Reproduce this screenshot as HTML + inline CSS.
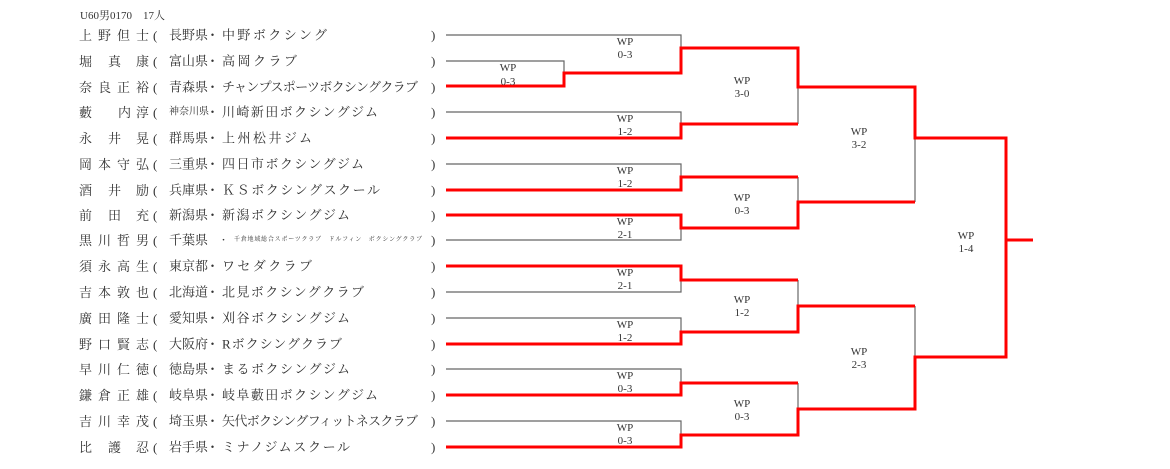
<!DOCTYPE html>
<html><head><meta charset="utf-8"><style>
html,body{margin:0;padding:0;background:#fff;}
svg{display:block;}
text{font-family:"Liberation Serif","Noto Serif CJK SC",serif;fill:#333;}
.n{font-size:13px;}
.l{font-size:11px;font-family:"Liberation Mono","Noto Sans CJK JP",monospace;text-anchor:middle;fill:#444;}
.g{stroke:#666;stroke-width:1.2;fill:none;}
.r{stroke:#f00;stroke-width:3;fill:none;}
</style></head><body>
<svg width="1170" height="469" viewBox="0 0 1170 469" xmlns="http://www.w3.org/2000/svg">
<text x="80" y="19" style="font-size:11px">U60男0170　17人</text>
<g class="n" dominant-baseline="central">
<text y="35"><tspan x="79">上</tspan><tspan x="98">野</tspan><tspan x="117">但</tspan><tspan x="136">士</tspan><tspan x="153">(</tspan></text>
<text y="61"><tspan x="79">堀</tspan><tspan x="108">真</tspan><tspan x="136">康</tspan><tspan x="153">(</tspan></text>
<text y="87"><tspan x="79">奈</tspan><tspan x="98">良</tspan><tspan x="117">正</tspan><tspan x="136">裕</tspan><tspan x="153">(</tspan></text>
<text y="112"><tspan x="79">藪</tspan><tspan x="118">内</tspan><tspan x="136">淳</tspan><tspan x="153">(</tspan></text>
<text y="138"><tspan x="79">永</tspan><tspan x="108">井</tspan><tspan x="136">晃</tspan><tspan x="153">(</tspan></text>
<text y="164"><tspan x="79">岡</tspan><tspan x="98">本</tspan><tspan x="117">守</tspan><tspan x="136">弘</tspan><tspan x="153">(</tspan></text>
<text y="190"><tspan x="79">酒</tspan><tspan x="108">井</tspan><tspan x="136">励</tspan><tspan x="153">(</tspan></text>
<text y="215"><tspan x="79">前</tspan><tspan x="108">田</tspan><tspan x="136">充</tspan><tspan x="153">(</tspan></text>
<text y="240"><tspan x="79">黒</tspan><tspan x="98">川</tspan><tspan x="117">哲</tspan><tspan x="136">男</tspan><tspan x="153">(</tspan></text>
<text y="266"><tspan x="79">須</tspan><tspan x="98">永</tspan><tspan x="117">高</tspan><tspan x="136">生</tspan><tspan x="153">(</tspan></text>
<text y="292"><tspan x="79">吉</tspan><tspan x="98">本</tspan><tspan x="117">敦</tspan><tspan x="136">也</tspan><tspan x="153">(</tspan></text>
<text y="318"><tspan x="79">廣</tspan><tspan x="98">田</tspan><tspan x="117">隆</tspan><tspan x="136">士</tspan><tspan x="153">(</tspan></text>
<text y="344"><tspan x="79">野</tspan><tspan x="98">口</tspan><tspan x="117">賢</tspan><tspan x="136">志</tspan><tspan x="153">(</tspan></text>
<text y="369"><tspan x="79">早</tspan><tspan x="98">川</tspan><tspan x="117">仁</tspan><tspan x="136">徳</tspan><tspan x="153">(</tspan></text>
<text y="395"><tspan x="79">鎌</tspan><tspan x="98">倉</tspan><tspan x="117">正</tspan><tspan x="136">雄</tspan><tspan x="153">(</tspan></text>
<text y="421"><tspan x="79">吉</tspan><tspan x="98">川</tspan><tspan x="117">幸</tspan><tspan x="136">茂</tspan><tspan x="153">(</tspan></text>
<text y="447"><tspan x="79">比</tspan><tspan x="108">護</tspan><tspan x="136">忍</tspan><tspan x="153">(</tspan></text>
<text x="169" y="35">長野県</text><text x="169" y="61">富山県</text><text x="169" y="87">青森県</text>
<text x="169" y="112" style="font-size:10px">神奈川県</text><text x="169" y="138">群馬県</text><text x="169" y="164">三重県</text>
<text x="169" y="190">兵庫県</text><text x="169" y="215">新潟県</text><text x="169" y="240">千葉県</text>
<text x="169" y="266">東京都</text><text x="169" y="292">北海道</text><text x="169" y="318">愛知県</text>
<text x="169" y="344">大阪府</text><text x="169" y="369">徳島県</text><text x="169" y="395">岐阜県</text>
<text x="169" y="421">埼玉県</text><text x="169" y="447">岩手県</text>
<text x="206" y="35">・</text><text x="206" y="61">・</text><text x="206" y="87">・</text><text x="206" y="112">・</text>
<text x="206" y="138">・</text><text x="206" y="164">・</text><text x="206" y="190">・</text><text x="206" y="215">・</text>
<text x="219" y="240" style="font-size:9px">・</text><text x="206" y="266">・</text><text x="206" y="292">・</text><text x="206" y="318">・</text>
<text x="206" y="344">・</text><text x="206" y="369">・</text><text x="206" y="395">・</text><text x="206" y="421">・</text><text x="206" y="447">・</text>
<text x="222" y="35" textLength="105">中野ボクシング</text>
<text x="222" y="61" textLength="75">高岡クラブ</text>
<text x="222" y="87" textLength="196">チャンプスポーツボクシングクラブ</text>
<text x="222" y="112" textLength="156">川崎新田ボクシングジム</text>
<text x="222" y="138" textLength="90">上州松井ジム</text>
<text x="222" y="164" textLength="142">四日市ボクシングジム</text>
<text x="222" y="190" textLength="158">ＫＳボクシングスクール</text>
<text x="222" y="215" textLength="128">新潟ボクシングジム</text>
<text x="234" y="240" style="font-size:6px" textLength="188">千倉地域総合スポーツクラブ　ドルフィン　ボクシングクラブ</text>
<text x="222" y="266" textLength="90">ワセダクラブ</text>
<text x="222" y="292" textLength="142">北見ボクシングクラブ</text>
<text x="222" y="318" textLength="128">刈谷ボクシングジム</text>
<text x="222" y="344" textLength="120">Rボクシングクラブ</text>
<text x="222" y="369" textLength="128">まるボクシングジム</text>
<text x="222" y="395" textLength="156">岐阜藪田ボクシングジム</text>
<text x="222" y="421" textLength="196">矢代ボクシングフィットネスクラブ</text>
<text x="222" y="447" textLength="128">ミナノジムスクール</text>
<g>
<text x="431" y="35">)</text><text x="431" y="61">)</text><text x="431" y="87">)</text><text x="431" y="112">)</text>
<text x="431" y="138">)</text><text x="431" y="164">)</text><text x="431" y="190">)</text><text x="431" y="215">)</text>
<text x="431" y="240">)</text><text x="431" y="266">)</text><text x="431" y="292">)</text><text x="431" y="318">)</text>
<text x="431" y="344">)</text><text x="431" y="369">)</text><text x="431" y="395">)</text><text x="431" y="421">)</text><text x="431" y="447">)</text>
</g>
</g>
<g class="g">
<path d="M446 35H681V48"/>
<path d="M446 61H564V73"/>
<path d="M446 112H681V124"/>
<path d="M798 87V124"/>
<path d="M446 164H681V177"/>
<path d="M446 240H681V228"/>
<path d="M798 177V202"/>
<path d="M915 138V202"/>
<path d="M1006 138V240"/>
<path d="M446 292H681V280"/>
<path d="M798 280V306"/>
<path d="M446 318H681V332"/>
<path d="M915 306V357"/>
<path d="M446 369H681V383"/>
<path d="M798 383V409"/>
<path d="M446 421H681V435"/>
</g>
<g class="r">
<path d="M446 86H564V73H681V48H798V87H915V138H1006V240H1033"/>
<path d="M446 138H681V124H798"/>
<path d="M446 190H681V177H798"/>
<path d="M446 215H681V228H798V202H915"/>
<path d="M446 266H681V280H798"/>
<path d="M446 344H681V332H798V306H915"/>
<path d="M446 395H681V383H798"/>
<path d="M446 447H681V435H798V409H915V357H1006V240"/>
</g>
<g class="l" dominant-baseline="central">
<text x="508" y="68">WP</text><text x="508" y="82">0-3</text>
<text x="625" y="42">WP</text><text x="625" y="55">0-3</text>
<text x="625" y="119">WP</text><text x="625" y="132">1-2</text>
<text x="625" y="171">WP</text><text x="625" y="184">1-2</text>
<text x="625" y="222">WP</text><text x="625" y="235">2-1</text>
<text x="625" y="273">WP</text><text x="625" y="286">2-1</text>
<text x="625" y="325">WP</text><text x="625" y="338">1-2</text>
<text x="625" y="376">WP</text><text x="625" y="389">0-3</text>
<text x="625" y="428">WP</text><text x="625" y="441">0-3</text>
<text x="742" y="81">WP</text><text x="742" y="94">3-0</text>
<text x="742" y="198">WP</text><text x="742" y="211">0-3</text>
<text x="742" y="300">WP</text><text x="742" y="313">1-2</text>
<text x="742" y="404">WP</text><text x="742" y="417">0-3</text>
<text x="859" y="132">WP</text><text x="859" y="145">3-2</text>
<text x="859" y="352">WP</text><text x="859" y="365">2-3</text>
<text x="966" y="236">WP</text><text x="966" y="249">1-4</text>
</g>
</svg>
</body></html>
